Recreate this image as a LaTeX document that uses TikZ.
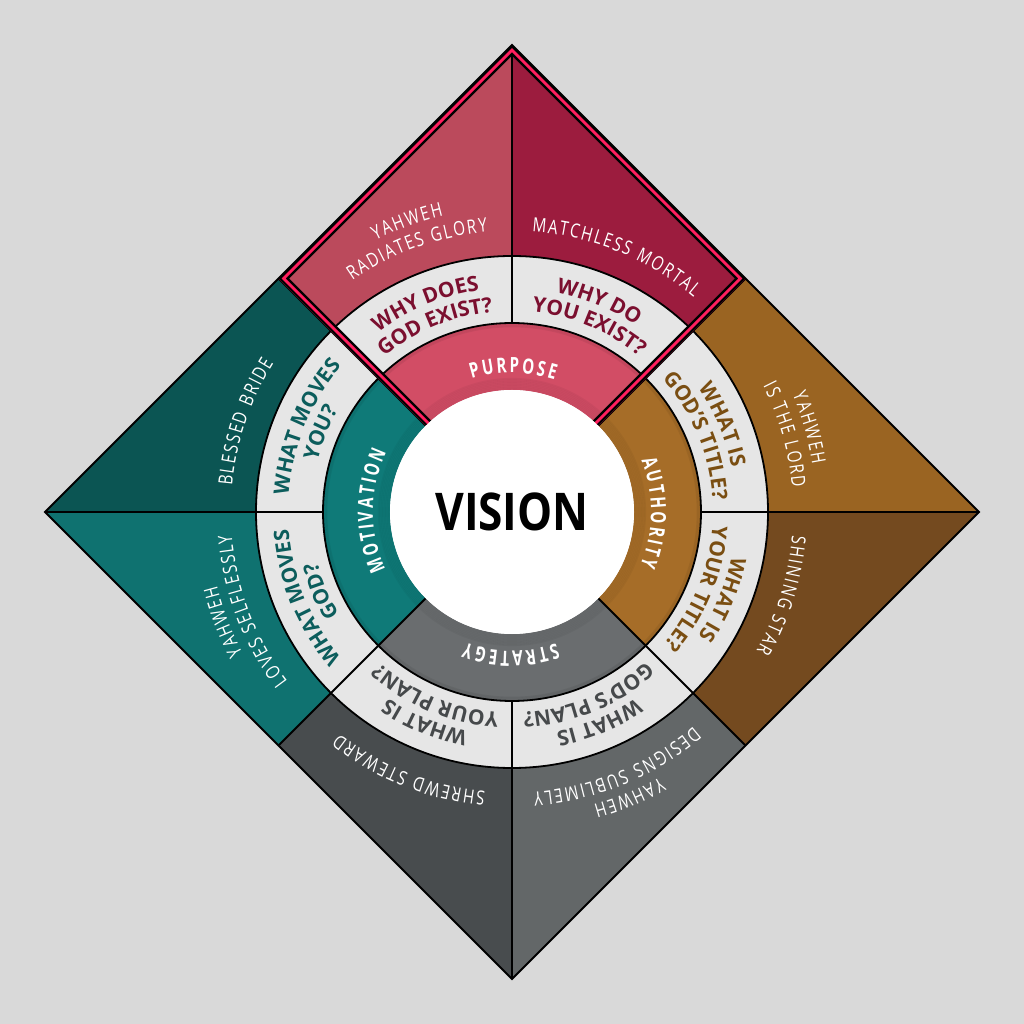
\documentclass[tikz,border=0pt]{standalone}
\usepackage{fontspec}
\setmainfont{Open Sans}
\usetikzlibrary{decorations.text}
\newfontfamily\OuterF[FakeStretch=0.78]{Open Sans}
\newfontfamily\RingF{Open Sans}
\newfontfamily\InnerF[FakeStretch=0.72]{Open Sans}
\newfontfamily\VisF[FakeStretch=0.85]{Open Sans}
\definecolor{bg}{HTML}{D9D9D9}
\definecolor{cTL}{HTML}{BB4A5C}
\definecolor{cTR}{HTML}{9C1C3E}
\definecolor{cRU}{HTML}{9A6422}
\definecolor{cRL}{HTML}{744A1F}
\definecolor{cBR}{HTML}{636768}
\definecolor{cBL}{HTML}{484C4E}
\definecolor{cLL}{HTML}{0F7270}
\definecolor{cLU}{HTML}{0B5553}
\definecolor{ringgray}{HTML}{E6E6E6}
\definecolor{cPur}{HTML}{D24D65}
\definecolor{cAut}{HTML}{A66D28}
\definecolor{cStr}{HTML}{6A6D6F}
\definecolor{cMot}{HTML}{0F7A78}
\definecolor{pinkB}{HTML}{FF1F5E}
\definecolor{labTop}{HTML}{7B0F2F}
\definecolor{labRight}{HTML}{7A4E12}
\definecolor{labBot}{HTML}{46494B}
\definecolor{labLeft}{HTML}{0C5D5C}
\newcommand\fOut{\OuterF\fontsize{19.5}{20}\selectfont\color{white}\kern1.8pt}
\newcommand\fInner{\InnerF\bfseries\fontsize{21}{21}\selectfont\color{white}\kern2.5pt}
\newcommand\fTop{\RingF\bfseries\fontsize{21}{21}\selectfont\color{labTop}}
\newcommand\fRight{\RingF\bfseries\fontsize{21}{21}\selectfont\color{labRight}}
\newcommand\fBot{\RingF\bfseries\fontsize{21}{21}\selectfont\color{labBot}}
\newcommand\fLeft{\RingF\bfseries\fontsize{21}{21}\selectfont\color{labLeft}}
\newcommand\ArcTxt[4]{\path[decorate,decoration={text along path,text align=center,text={|#3|#4}}]
  ({#1+70}:#2) arc[start angle={#1+70},end angle={#1-70},radius=#2];}
\tikzset{
  divider/.style={black,line width=1.8pt},
  outline/.style={black,line width=2pt,line join=miter},
}
\begin{document}
\begin{tikzpicture}[x=1pt,y=1pt]
\useasboundingbox (-512,-512) rectangle (512,512);
\fill[bg] (-512,-512) rectangle (512,512);
\coordinate (O) at (0,0);
\coordinate (T) at (0,467);
\coordinate (R) at (467,0);
\coordinate (B) at (0,-467);
\coordinate (L) at (-467,0);
\coordinate (TR) at (233.5,233.5);
\coordinate (BR) at (233.5,-233.5);
\coordinate (BL) at (-233.5,-233.5);
\coordinate (TL) at (-233.5,233.5);
% outer triangles
\fill[cTL] (T) -- (TL) -- (O) -- cycle;
\fill[cTR] (T) -- (TR) -- (O) -- cycle;
\fill[cRU] (R) -- (TR) -- (O) -- cycle;
\fill[cRL] (R) -- (BR) -- (O) -- cycle;
\fill[cBR] (B) -- (BR) -- (O) -- cycle;
\fill[cBL] (B) -- (BL) -- (O) -- cycle;
\fill[cLL] (L) -- (BL) -- (O) -- cycle;
\fill[cLU] (L) -- (TL) -- (O) -- cycle;
% light ring
\fill[ringgray] (O) circle[radius=256];
\draw[divider] (T) -- (O) (R) -- (O) (B) -- (O) (L) -- (O);
% inner coloured ring
\fill[cPur] (45:189) arc[start angle=45,end angle=135,radius=189] -- (135:122) arc[start angle=135,end angle=45,radius=122] -- cycle;
\fill[cMot] (135:189) arc[start angle=135,end angle=225,radius=189] -- (225:122) arc[start angle=225,end angle=135,radius=122] -- cycle;
\fill[cStr] (225:189) arc[start angle=225,end angle=315,radius=189] -- (315:122) arc[start angle=315,end angle=225,radius=122] -- cycle;
\fill[cAut] (-45:189) arc[start angle=-45,end angle=45,radius=189] -- (45:122) arc[start angle=45,end angle=-45,radius=122] -- cycle;
% soft shadows on the coloured ring
\begin{scope}
\clip (O) circle[radius=189];
\foreach \i in {0,...,7}{\draw[black,opacity=0.04,line width=1.6pt] (O) circle[radius=122.8+\i*1.5];}
\foreach \i in {0,...,2}{\draw[black,opacity=0.06,line width=1.4pt] (O) circle[radius=188-\i*1.3];}
\end{scope}
\draw[divider] (TL) -- (O) (TR) -- (O) (BR) -- (O) (BL) -- (O);
\draw[divider] (O) circle[radius=189] (O) circle[radius=256];
% crimson square border
\begin{scope}
\clip (T) -- (TR) -- (O) -- (TL) -- cycle;
\draw[black,line width=15pt,line join=miter] (T) -- (TR) -- (O) -- (TL) -- cycle;
\draw[pinkB,line width=10pt,line join=miter] (T) -- (TR) -- (O) -- (TL) -- cycle;
\draw[black,line width=4pt,line join=miter] (T) -- (TR) -- (O) -- (TL) -- cycle;
\end{scope}
\fill[white] (O) circle[radius=122];
\draw[outline] (T) -- (R) -- (B) -- (L) -- cycle;
\node[font=\VisF\bfseries\fontsize{52}{52}\selectfont,text=black,inner sep=0pt] (vision) at (O) {VISION};
% outer texts
\ArcTxt{110}{304}{\fOut}{YAHWEH}
\ArcTxt{110}{281}{\fOut}{RADIATES GLORY}
\ArcTxt{68}{281}{\fOut}{MATCHLESS MORTAL}
\ArcTxt{16}{304}{\fOut}{YAHWEH}
\ArcTxt{16}{281}{\fOut}{IS THE LORD}
\ArcTxt{-17}{281}{\fOut}{SHINING STAR}
\ArcTxt{-67.5}{304}{\fOut}{YAHWEH}
\ArcTxt{-67.5}{281}{\fOut}{DESIGNS SUBLIMELY}
\ArcTxt{-111.5}{281}{\fOut}{SHREWD STEWARD}
\ArcTxt{201}{304}{\fOut}{YAHWEH}
\ArcTxt{201}{281}{\fOut}{LOVES SELFLESSLY}
\ArcTxt{161.5}{281}{\fOut}{BLESSED BRIDE}
% ring questions
\ArcTxt{112.5}{224}{\fTop}{WHY DOES}
\ArcTxt{112.5}{201}{\fTop}{GOD EXIST?}
\ArcTxt{67.5}{224}{\fTop}{WHY DO}
\ArcTxt{67.5}{201}{\fTop}{YOU EXIST?}
\ArcTxt{22.5}{224}{\fRight}{WHAT IS}
\ArcTxt{22.5}{201}{\fRight}{GOD’S TITLE?}
\ArcTxt{-22.5}{224}{\fRight}{WHAT IS}
\ArcTxt{-22.5}{201}{\fRight}{YOUR TITLE?}
\ArcTxt{-67.5}{224}{\fBot}{WHAT IS}
\ArcTxt{-67.5}{201}{\fBot}{GOD’S PLAN?}
\ArcTxt{-112.5}{224}{\fBot}{WHAT IS}
\ArcTxt{-112.5}{201}{\fBot}{YOUR PLAN?}
\ArcTxt{202.5}{224}{\fLeft}{WHAT MOVES}
\ArcTxt{202.5}{201}{\fLeft}{GOD?}
\ArcTxt{157.5}{224}{\fLeft}{WHAT MOVES}
\ArcTxt{157.5}{201}{\fLeft}{YOU?}
% inner ring labels
\ArcTxt{90}{139}{\fInner}{PURPOSE}
\ArcTxt{0}{139}{\fInner}{AUTHORITY}
\ArcTxt{-90}{139}{\fInner}{STRATEGY}
\ArcTxt{180}{139}{\fInner}{MOTIVATION}
\end{tikzpicture}
\end{document}
